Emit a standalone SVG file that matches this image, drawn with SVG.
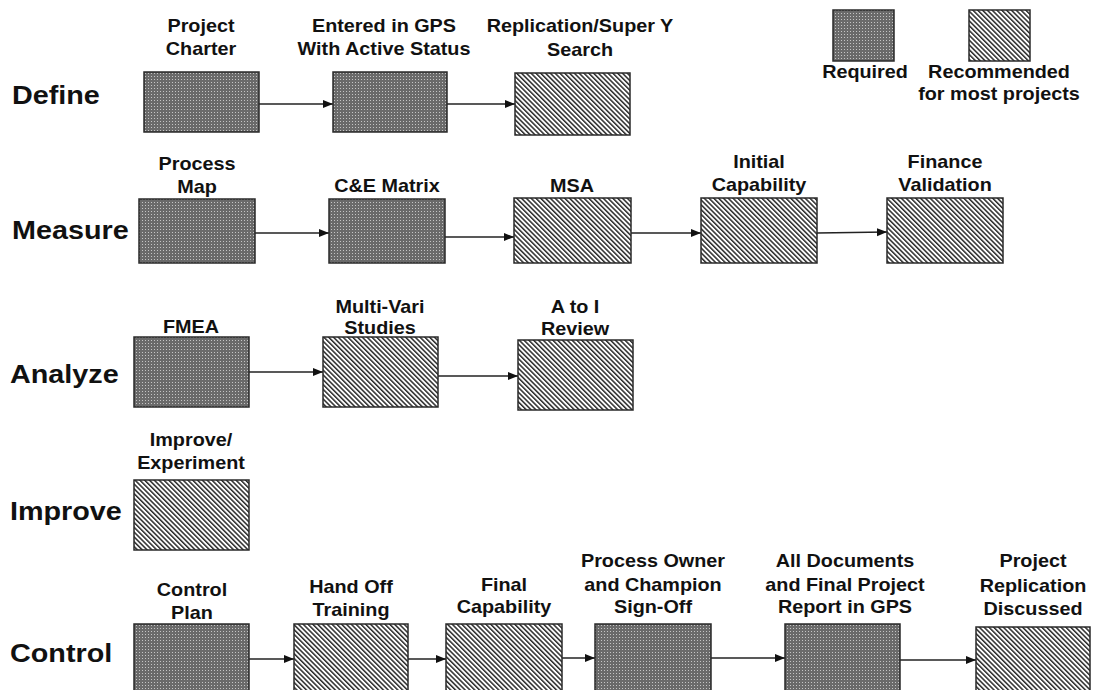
<svg xmlns="http://www.w3.org/2000/svg" width="1095" height="690" viewBox="0 0 1095 690">
  <defs>
    <style>
      .phase { font-family: "Liberation Sans", Arial, sans-serif; font-weight: bold; font-size: 25px; fill: #111; }
      .lbl { font-family: "Liberation Sans", Arial, sans-serif; font-weight: bold; font-size: 18px; fill: #111; text-anchor: middle; }
      .req { fill: url(#dots); stroke: #2a2a2a; stroke-width: 1.5; }
      .rec { fill: url(#hatch); stroke: #2a2a2a; stroke-width: 1.5; }
      .conn line { stroke: #222; stroke-width: 1.3; marker-end: url(#arrow); }
    </style>
    <!-- dark stippled fill for required steps -->
    <pattern id="dots" patternUnits="userSpaceOnUse" width="3" height="3">
      <rect width="3" height="3" fill="#6a6a6a"/>
      <rect x="1" y="1" width="1" height="1" fill="#c4c4c4"/>
    </pattern>
    <!-- diagonal hatch for recommended steps -->
    <pattern id="hatch" patternUnits="userSpaceOnUse" width="3.4" height="3.4" patternTransform="rotate(-45)">
      <rect width="3.4" height="3.4" fill="#ffffff"/>
      <rect x="0" y="0" width="1.5" height="3.4" fill="#2a2a2a"/>
    </pattern>
    <marker id="arrow" markerUnits="userSpaceOnUse" markerWidth="11" markerHeight="9" refX="10" refY="4.5" orient="auto">
      <path d="M0,0.5 L10,4.5 L0,8.5 Z" fill="#111"/>
    </marker>
  </defs>

  <rect width="1095" height="690" fill="#ffffff"/>

  <!-- phase titles -->
  <g id="phases">
    <text class="phase" transform="translate(12 104) scale(1.15 1)">Define</text>
    <text class="phase" transform="translate(12 239) scale(1.15 1)">Measure</text>
    <text class="phase" transform="translate(10 383) scale(1.15 1)">Analyze</text>
    <text class="phase" transform="translate(10 520) scale(1.15 1)">Improve</text>
    <text class="phase" transform="translate(10 662) scale(1.15 1)">Control</text>
  </g>

  <!-- legend -->
  <g id="legend-required">
    <rect class="req" x="833" y="10" width="61" height="51"/>
    <g transform="translate(865 0) scale(1.1 1)"><text class="lbl" x="0" y="78">Required</text></g>
  </g>
  <g id="legend-recommended">
    <rect class="rec" x="969" y="10" width="61" height="51"/>
    <g transform="translate(999 0) scale(1.1 1)">
      <text class="lbl" x="0" y="78">Recommended</text>
      <text class="lbl" x="0" y="100">for most projects</text>
    </g>
  </g>

  <!-- connectors -->
  <g id="connectors" class="conn">
    <line x1="259" y1="104" x2="333" y2="104"/>
    <line x1="447" y1="104" x2="515" y2="104"/>

    <line x1="255" y1="233" x2="329" y2="233"/>
    <line x1="445" y1="237" x2="514" y2="237"/>
    <line x1="631" y1="233" x2="701" y2="233"/>
    <line x1="817" y1="233" x2="887" y2="232"/>

    <line x1="249" y1="372" x2="323" y2="372"/>
    <line x1="438" y1="376" x2="518" y2="376"/>

    <line x1="249" y1="659" x2="294" y2="659"/>
    <line x1="408" y1="659" x2="446" y2="659"/>
    <line x1="562" y1="658" x2="595" y2="658"/>
    <line x1="711" y1="658" x2="785" y2="658"/>
    <line x1="900" y1="660" x2="976" y2="660"/>
  </g>

  <!-- Define -->
  <g id="project-charter">
    <rect class="req" x="144" y="72" width="115" height="60"/>
    <g transform="translate(201 0) scale(1.1 1)">
      <text class="lbl" x="0" y="32">Project</text>
      <text class="lbl" x="0" y="55">Charter</text>
    </g>
  </g>
  <g id="entered-in-gps">
    <rect class="req" x="333" y="72" width="114" height="60"/>
    <g transform="translate(384 0) scale(1.1 1)">
      <text class="lbl" x="0" y="32">Entered in GPS</text>
      <text class="lbl" x="0" y="55">With Active Status</text>
    </g>
  </g>
  <g id="replication-search">
    <rect class="rec" x="515" y="73" width="115" height="62"/>
    <g transform="translate(580 0) scale(1.1 1)">
      <text class="lbl" x="0" y="32">Replication/Super Y</text>
      <text class="lbl" x="0" y="56">Search</text>
    </g>
  </g>

  <!-- Measure -->
  <g id="process-map">
    <rect class="req" x="139" y="199" width="116" height="64"/>
    <g transform="translate(197 0) scale(1.1 1)">
      <text class="lbl" x="0" y="170">Process</text>
      <text class="lbl" x="0" y="193">Map</text>
    </g>
  </g>
  <g id="ce-matrix">
    <rect class="req" x="329" y="199" width="116" height="64"/>
    <g transform="translate(387 0) scale(1.1 1)">
      <text class="lbl" x="0" y="192">C&amp;E Matrix</text>
    </g>
  </g>
  <g id="msa">
    <rect class="rec" x="514" y="198" width="117" height="65"/>
    <g transform="translate(572 0) scale(1.1 1)">
      <text class="lbl" x="0" y="192">MSA</text>
    </g>
  </g>
  <g id="initial-capability">
    <rect class="rec" x="701" y="198" width="116" height="65"/>
    <g transform="translate(759 0) scale(1.1 1)">
      <text class="lbl" x="0" y="168">Initial</text>
      <text class="lbl" x="0" y="191">Capability</text>
    </g>
  </g>
  <g id="finance-validation">
    <rect class="rec" x="887" y="198" width="116" height="65"/>
    <g transform="translate(945 0) scale(1.1 1)">
      <text class="lbl" x="0" y="168">Finance</text>
      <text class="lbl" x="0" y="191">Validation</text>
    </g>
  </g>

  <!-- Analyze -->
  <g id="fmea">
    <rect class="req" x="134" y="337" width="115" height="70"/>
    <g transform="translate(191 0) scale(1.1 1)">
      <text class="lbl" x="0" y="333">FMEA</text>
    </g>
  </g>
  <g id="multi-vari">
    <rect class="rec" x="323" y="337" width="115" height="70"/>
    <g transform="translate(380 0) scale(1.1 1)">
      <text class="lbl" x="0" y="313">Multi-Vari</text>
      <text class="lbl" x="0" y="334">Studies</text>
    </g>
  </g>
  <g id="a-to-i-review">
    <rect class="rec" x="518" y="340" width="115" height="70"/>
    <g transform="translate(575 0) scale(1.1 1)">
      <text class="lbl" x="0" y="313">A to I</text>
      <text class="lbl" x="0" y="335">Review</text>
    </g>
  </g>

  <!-- Improve -->
  <g id="improve-experiment">
    <rect class="rec" x="134" y="480" width="115" height="70"/>
    <g transform="translate(191 0) scale(1.1 1)">
      <text class="lbl" x="0" y="446">Improve/</text>
      <text class="lbl" x="0" y="469">Experiment</text>
    </g>
  </g>

  <!-- Control -->
  <g id="control-plan">
    <rect class="req" x="134" y="624" width="115" height="72"/>
    <g transform="translate(192 0) scale(1.1 1)">
      <text class="lbl" x="0" y="596">Control</text>
      <text class="lbl" x="0" y="619">Plan</text>
    </g>
  </g>
  <g id="hand-off-training">
    <rect class="rec" x="294" y="624" width="114" height="72"/>
    <g transform="translate(351 0) scale(1.1 1)">
      <text class="lbl" x="0" y="593">Hand Off</text>
      <text class="lbl" x="0" y="616">Training</text>
    </g>
  </g>
  <g id="final-capability">
    <rect class="rec" x="446" y="624" width="116" height="72"/>
    <g transform="translate(504 0) scale(1.1 1)">
      <text class="lbl" x="0" y="591">Final</text>
      <text class="lbl" x="0" y="613">Capability</text>
    </g>
  </g>
  <g id="owner-signoff">
    <rect class="req" x="595" y="624" width="116" height="72"/>
    <g transform="translate(653 0) scale(1.1 1)">
      <text class="lbl" x="0" y="567">Process Owner</text>
      <text class="lbl" x="0" y="591">and Champion</text>
      <text class="lbl" x="0" y="613">Sign-Off</text>
    </g>
  </g>
  <g id="final-report">
    <rect class="req" x="785" y="624" width="115" height="72"/>
    <g transform="translate(845 0) scale(1.1 1)">
      <text class="lbl" x="0" y="567">All Documents</text>
      <text class="lbl" x="0" y="591">and Final Project</text>
      <text class="lbl" x="0" y="613">Report in GPS</text>
    </g>
  </g>
  <g id="replication-discussed">
    <rect class="rec" x="976" y="627" width="114" height="70"/>
    <g transform="translate(1033 0) scale(1.1 1)">
      <text class="lbl" x="0" y="567">Project</text>
      <text class="lbl" x="0" y="592">Replication</text>
      <text class="lbl" x="0" y="615">Discussed</text>
    </g>
  </g>
</svg>
